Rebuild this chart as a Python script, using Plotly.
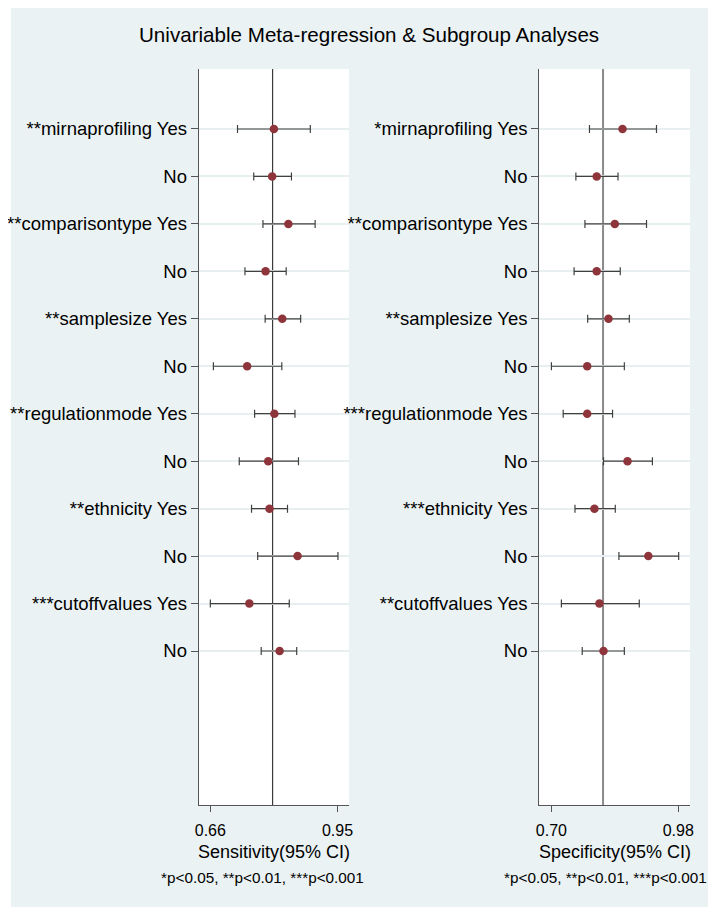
import plotly.graph_objects as go

# The page body has an 8px margin, so the figure is drawn 8px in from the window edge.
OFF = 8
W, H = 716 - OFF, 907 - OFF

labels = ["**mirnaprofiling Yes", "No", "**comparisontype Yes", "No",
          "**samplesize Yes", "No", "**regulationmode Yes", "No",
          "**ethnicity Yes", "No", "***cutoffvalues Yes", "No"]
labels_spec = ["*mirnaprofiling Yes", "No", "**comparisontype Yes", "No",
               "**samplesize Yes", "No", "***regulationmode Yes", "No",
               "***ethnicity Yes", "No", "**cutoffvalues Yes", "No"]

sens = [0.805, 0.801, 0.838, 0.786, 0.824, 0.744, 0.806, 0.792, 0.795, 0.859, 0.749, 0.818]
sens_lo = [0.722, 0.759, 0.780, 0.739, 0.785, 0.667, 0.761, 0.726, 0.754, 0.768, 0.660, 0.776]
sens_hi = [0.888, 0.845, 0.899, 0.833, 0.866, 0.823, 0.853, 0.861, 0.836, 0.951, 0.840, 0.857]

spec = [0.857, 0.800, 0.840, 0.800, 0.826, 0.779, 0.779, 0.868, 0.795, 0.914, 0.806, 0.815]
spec_lo = [0.784, 0.754, 0.774, 0.750, 0.780, 0.700, 0.726, 0.815, 0.752, 0.849, 0.722, 0.768]
spec_hi = [0.932, 0.847, 0.910, 0.852, 0.872, 0.861, 0.835, 0.923, 0.841, 0.981, 0.894, 0.861]

sens_pooled = 0.802
spec_pooled = 0.814

sens_ticks = [0.66, 0.95]
spec_ticks = [0.70, 0.98]
sens_range = [0.6335, 0.976]
spec_range = [0.673, 1.006]

pos = list(range(len(labels)))

def px(x):
    return (x - OFF) / W

def py(y):
    return 1 - (y - OFF) / H

BG = "#EAF2F3"
DOT = "#8E353B"
LINE = "#404040"
FONT = "Liberation Sans, Arial, sans-serif"

fig = go.Figure()

def add_panel(vals, lo, hi, xa, ya):
    fig.add_trace(go.Scatter(
        x=vals, y=pos, mode="markers",
        marker=dict(color=DOT, size=8.5, line=dict(width=0)),
        error_x=dict(type="data", symmetric=False,
                     array=[h - v for h, v in zip(hi, vals)],
                     arrayminus=[v - l for v, l in zip(vals, lo)],
                     color=LINE, thickness=1.2, width=4),
        xaxis=xa, yaxis=ya, showlegend=False, hoverinfo="x+y"))

add_panel(sens, sens_lo, sens_hi, "x", "y")
add_panel(spec, spec_lo, spec_hi, "x2", "y2")

ydom = [py(805), py(69)]
yrange = [len(labels) - 1 + 3.245, -1.264]

common_y = dict(range=yrange, tickmode="array", tickvals=pos,
                showgrid=True, gridcolor="#E8EFF1", gridwidth=1.5,
                zeroline=False, showline=True, linecolor="#555555", linewidth=1,
                ticks="outside", ticklen=7, tickcolor="#555555", tickwidth=1,
                tickfont=dict(family=FONT, size=18.5, color="#000000"),
                automargin=False, fixedrange=True)
common_x = dict(tickmode="array", showgrid=False, zeroline=False,
                showline=True, linecolor="#555555", linewidth=1,
                ticks="outside", ticklen=6, tickcolor="#555555", tickwidth=1,
                tickfont=dict(family=FONT, size=16, color="#000000"),
                ticklabelstandoff=5,
                automargin=False, fixedrange=True)

fig.update_layout(
    width=W, height=H,
    margin=dict(l=0, r=0, t=0, b=0),
    paper_bgcolor=BG, plot_bgcolor="#FFFFFF",
    template="none",
    xaxis=dict(domain=[px(198.7), px(348.9)], range=sens_range,
               tickvals=sens_ticks, ticktext=["%.2f" % t for t in sens_ticks],
               anchor="y", **common_x),
    yaxis=dict(domain=ydom, anchor="x", ticktext=labels, **common_y),
    xaxis2=dict(domain=[px(539.2), px(690)], range=spec_range,
                tickvals=spec_ticks, ticktext=["%.2f" % t for t in spec_ticks],
                anchor="y2", **common_x),
    yaxis2=dict(domain=ydom, anchor="x2", ticktext=labels_spec, **common_y),
)

shapes = [
    dict(type="line", xref="x", yref="y domain", x0=sens_pooled, x1=sens_pooled,
         y0=0, y1=1, line=dict(color="#3a3a3a", width=1.2), layer="below"),
    dict(type="line", xref="x2", yref="y2 domain", x0=spec_pooled, x1=spec_pooled,
         y0=0, y1=1, line=dict(color="#8a8a8a", width=2), layer="below"),
    dict(type="rect", xref="paper", yref="paper", x0=0, x1=px(11), y0=0, y1=1,
         fillcolor="#FFFFFF", line=dict(width=0), layer="below"),
]
fig.update_layout(shapes=shapes)

ann = [
    dict(text="Univariable Meta-regression & Subgroup Analyses", x=px(369), y=py(35),
         font=dict(family=FONT, size=20.6, color="#000000")),
    dict(text="Sensitivity(95% CI)", x=px(273.8), y=py(852),
         font=dict(family=FONT, size=18, color="#000000")),
    dict(text="Specificity(95% CI)", x=px(614.6), y=py(852),
         font=dict(family=FONT, size=18, color="#000000")),
    dict(text="*p<0.05, **p<0.01, ***p<0.001", x=px(262.8), y=py(877),
         font=dict(family=FONT, size=15.3, color="#000000")),
    dict(text="*p<0.05, **p<0.01, ***p<0.001", x=px(605), y=py(877),
         font=dict(family=FONT, size=15.3, color="#000000")),
]
for a in ann:
    a.update(xref="paper", yref="paper", showarrow=False, xanchor="center", yanchor="middle")
fig.update_layout(annotations=ann)

fig.write_html("out.html")
